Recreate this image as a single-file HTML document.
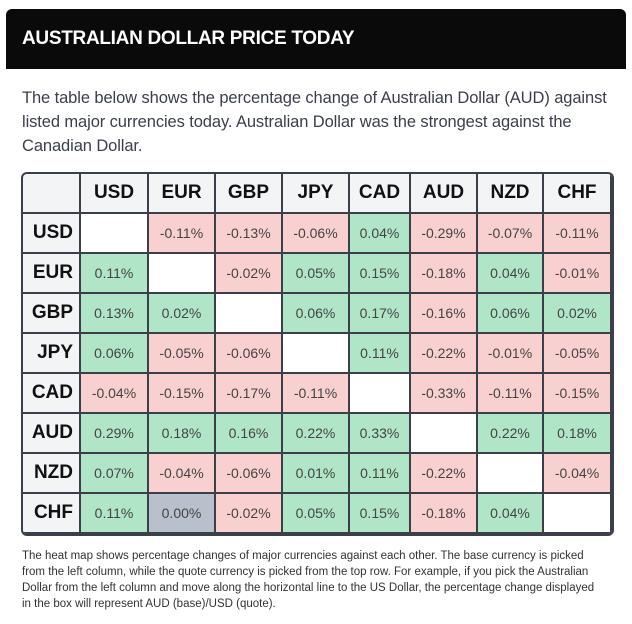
<!DOCTYPE html>
<html><head><style>
body{margin:0;width:632px;height:624px;background:#fff;font-family:"Liberation Sans",sans-serif;position:relative;overflow:hidden}
.hd{position:absolute;left:6px;top:9px;width:620px;height:60px;background:#0a0a0a;border-radius:6px 6px 0 0}
.hd span{position:absolute;left:16px;top:19px;color:#fff;font-weight:bold;font-size:19px;letter-spacing:-0.3px}
.p{position:absolute;left:22px;top:86px;width:595px;font-size:16.5px;line-height:24px;color:#3a3f4a;letter-spacing:-0.1px}
.t{position:absolute;left:21px;top:172px;width:589px;height:360px;border:2px solid #3a3f4a;border-radius:6px;overflow:hidden;display:grid;grid-template-columns:58px 68px 67px 67px 67px 61px 67px 66px 68px;grid-template-rows:repeat(9,40px);background:#3a3f4a;gap:0}
.t div{box-sizing:border-box;border-right:2px solid #3a3f4a;border-bottom:2px solid #3a3f4a;display:flex;align-items:center;justify-content:center;font-size:14px;color:#444}
.t .h{background:#f3f4f6;font-size:19px;color:#111;font-weight:bold}
.t .l{justify-content:flex-end;padding-right:6px}
.g{background:#b0e5c8}.r{background:#f9d0d0}.z{background:#b8c0cc}.w{background:#fff}
.f{position:absolute;left:22px;top:548px;width:575px;font-size:11.5px;line-height:16px;color:#333}
</style></head><body>
<div class="hd"><span>AUSTRALIAN DOLLAR PRICE TODAY</span></div>
<div class="p">The table below shows the percentage change of Australian Dollar (AUD) against listed major currencies today. Australian Dollar was the strongest against the Canadian Dollar.</div>
<div class="t">
<div class="h"></div><div class="h">USD</div><div class="h">EUR</div><div class="h">GBP</div><div class="h">JPY</div><div class="h">CAD</div><div class="h">AUD</div><div class="h">NZD</div><div class="h">CHF</div>
<div class="h l">USD</div><div class="w"></div><div class="r">-0.11%</div><div class="r">-0.13%</div><div class="r">-0.06%</div><div class="g">0.04%</div><div class="r">-0.29%</div><div class="r">-0.07%</div><div class="r">-0.11%</div>
<div class="h l">EUR</div><div class="g">0.11%</div><div class="w"></div><div class="r">-0.02%</div><div class="g">0.05%</div><div class="g">0.15%</div><div class="r">-0.18%</div><div class="g">0.04%</div><div class="r">-0.01%</div>
<div class="h l">GBP</div><div class="g">0.13%</div><div class="g">0.02%</div><div class="w"></div><div class="g">0.06%</div><div class="g">0.17%</div><div class="r">-0.16%</div><div class="g">0.06%</div><div class="g">0.02%</div>
<div class="h l">JPY</div><div class="g">0.06%</div><div class="r">-0.05%</div><div class="r">-0.06%</div><div class="w"></div><div class="g">0.11%</div><div class="r">-0.22%</div><div class="r">-0.01%</div><div class="r">-0.05%</div>
<div class="h l">CAD</div><div class="r">-0.04%</div><div class="r">-0.15%</div><div class="r">-0.17%</div><div class="r">-0.11%</div><div class="w"></div><div class="r">-0.33%</div><div class="r">-0.11%</div><div class="r">-0.15%</div>
<div class="h l">AUD</div><div class="g">0.29%</div><div class="g">0.18%</div><div class="g">0.16%</div><div class="g">0.22%</div><div class="g">0.33%</div><div class="w"></div><div class="g">0.22%</div><div class="g">0.18%</div>
<div class="h l">NZD</div><div class="g">0.07%</div><div class="r">-0.04%</div><div class="r">-0.06%</div><div class="g">0.01%</div><div class="g">0.11%</div><div class="r">-0.22%</div><div class="w"></div><div class="r">-0.04%</div>
<div class="h l">CHF</div><div class="g">0.11%</div><div class="z">0.00%</div><div class="r">-0.02%</div><div class="g">0.05%</div><div class="g">0.15%</div><div class="r">-0.18%</div><div class="g">0.04%</div><div class="w"></div>
</div>
<div class="f">The heat map shows percentage changes of major currencies against each other. The base currency is picked from the left column, while the quote currency is picked from the top row. For example, if you pick the Australian Dollar from the left column and move along the horizontal line to the US Dollar, the percentage change displayed in the box will represent AUD (base)/USD (quote).</div>
</body></html>
